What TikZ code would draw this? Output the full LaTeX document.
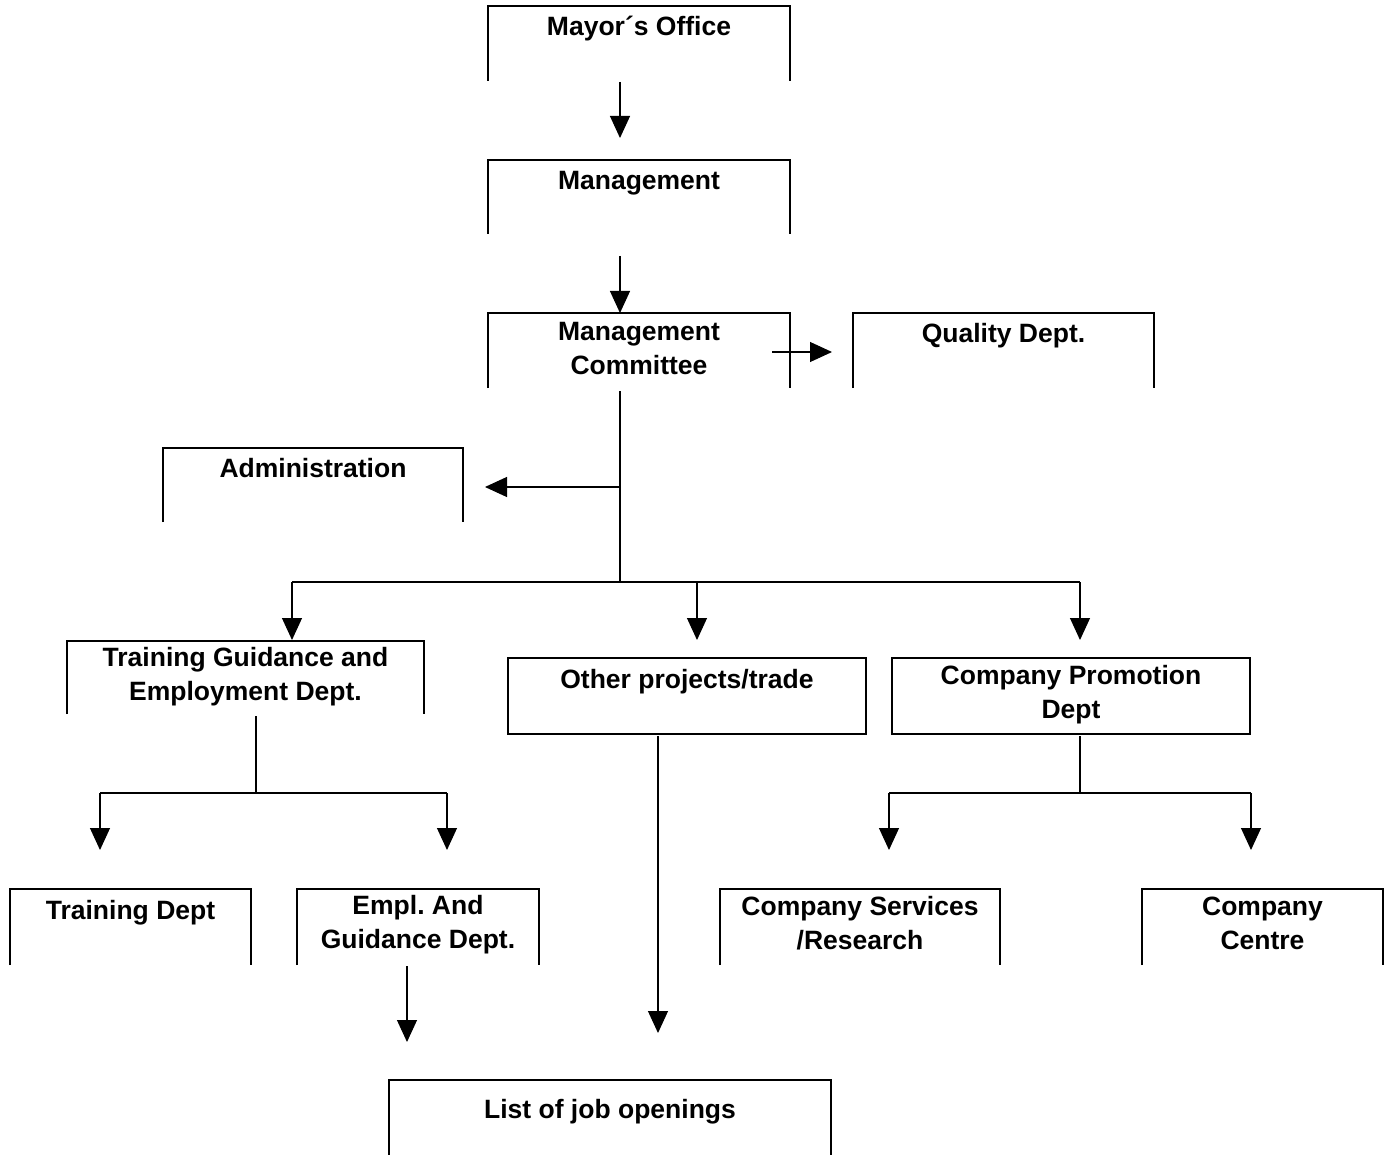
\documentclass[tikz,border=0pt]{standalone}
\usepackage{fontspec}
\setmainfont{Liberation Sans}
\usetikzlibrary{arrows.meta,calc,fit}
\begin{document}
\begin{tikzpicture}[x=0.5pt,y=-0.5pt,
  frame/.style={line width=1pt},
  conn/.style={line width=0.55pt},
  arr/.style={conn,-{Triangle[width=10pt,length=11pt]}},
  area/.style={inner sep=0pt, outer sep=0pt},
  lbl/.style={font=\bfseries\fontsize{13.25}{17}\selectfont, align=center, inner sep=0pt, anchor=base}]
\useasboundingbox (0,0) rectangle (1387,1155);

% box areas
\node[area, fit={(488,6)(790,81)}] (mayor) {};
\node[area, fit={(488,160)(790,234)}] (mgmt) {};
\node[area, fit={(488,313)(790,388)}] (mc) {};
\node[area, fit={(853,313)(1154,388)}] (qual) {};
\node[area, fit={(163,448)(463,522)}] (admin) {};
\node[area, fit={(67,641)(424,714)}] (tge) {};
\node[area, fit={(508,658)(866,734)}] (other) {};
\node[area, fit={(892,658)(1250,734)}] (cpd) {};
\node[area, fit={(10,889)(251,965)}] (train) {};
\node[area, fit={(297,889)(539,965)}] (empl) {};
\node[area, fit={(720,889)(1000,965)}] (serv) {};
\node[area, fit={(1142,889)(1383,965)}] (centre) {};
\node[area, fit={(389,1080)(831,1155)}] (list) {};

% open frames (top and sides)
\foreach \b in {mayor,mgmt,mc,qual,admin,tge,train,empl,serv,centre,list}
  \draw[frame] (\b.south west) |- (\b.north) -| (\b.south east);
% closed frames
\draw[frame] (other.south west) rectangle (other.north east);
\draw[frame] (cpd.south west) rectangle (cpd.north east);

% labels (anchor=base is the baseline of the last line)
\node[lbl] (mayorT) at ($(mayor.north)+(0,30)$) {Mayor´s Office};
\node[lbl] (mgmtT) at ($(mgmt.north)+(0,30)$) {Management};
\node[lbl] (mcT) at ($(mc.north)+(0,61)$) {Management\\Committee};
\node[lbl] (qualT) at ($(qual.north)+(0,30)$) {Quality Dept.};
\node[lbl] (adminT) at ($(admin.north)+(0,29)$) {Administration};
\node[lbl] (tgeT) at ($(tge.north)+(0,59)$) {Training Guidance and\\Employment Dept.};
\node[lbl] (otherT) at ($(other.north)+(0,30)$) {Other projects/trade};
\node[lbl] (cpdT) at ($(cpd.north)+(0,60)$) {Company Promotion\\Dept};
\node[lbl] (trainT) at ($(train.north)+(0,30)$) {Training Dept};
\node[lbl] (emplT) at ($(empl.north)+(0,59)$) {Empl.\ And\\Guidance Dept.};
\node[lbl] (servT) at ($(serv.north)+(0,60)$) {Company Services\\/Research};
\node[lbl] (centreT) at ($(centre.north)+(0,60)$) {Company\\Centre};
\node[lbl] (listT) at ($(list.north)+(0,38)$) {List of job openings};

% connectors
\draw[arr] ($(mayor.south)+(-19,1)$) -- ($(mgmt.north)+(-19,-22)$);
\draw[arr] ($(mgmt.south)+(-19,22)$) -- ($(mc.north)+(-19,0)$);
\draw[arr] ($(mc.east)+(-18,1.5)$) -- ($(qual.west)+(-21,1.5)$);
\coordinate (hub) at ($(mc.south)+(-19,194)$);
\draw[conn] ($(mc.south)+(-19,3)$) -- (hub);
\draw[arr] ($(hub)+(0,-95)$) -- ($(admin.east)+(22,2)$);
\draw[conn] ($(tge.north)+(46.5,-59)$) -- ($(cpd.north)+(9,-76)$);
\draw[arr] ($(tge.north)+(46.5,-59)$) -- ($(tge.north)+(46.5,-1)$);
\draw[arr] ($(other.north)+(10,-76)$) -- ($(other.north)+(10,-18)$);
\draw[arr] ($(cpd.north)+(9,-76)$) -- ($(cpd.north)+(9,-18)$);

\draw[conn] ($(tge.south)+(10.5,2)$) -- ($(tge.south)+(10.5,79)$);
\draw[conn] ($(train.north)+(-30.5,-96)$) -- ($(empl.north)+(29,-96)$);
\draw[arr] ($(train.north)+(-30.5,-96)$) -- ($(train.north)+(-30.5,-39)$);
\draw[arr] ($(empl.north)+(29,-96)$) -- ($(empl.north)+(29,-39)$);

\draw[conn] ($(cpd.south)+(9,2)$) -- ($(cpd.south)+(9,59)$);
\draw[conn] ($(serv.north)+(29,-96)$) -- ($(centre.north)+(-11.5,-96)$);
\draw[arr] ($(serv.north)+(29,-96)$) -- ($(serv.north)+(29,-39)$);
\draw[arr] ($(centre.north)+(-11.5,-96)$) -- ($(centre.north)+(-11.5,-39)$);

\draw[arr] ($(other.south)+(-29,2)$) -- ($(list.north)+(48,-47)$);
\draw[arr] ($(empl.south)+(-11,1)$) -- ($(list.north)+(-203,-38)$);
\end{tikzpicture}
\end{document}
